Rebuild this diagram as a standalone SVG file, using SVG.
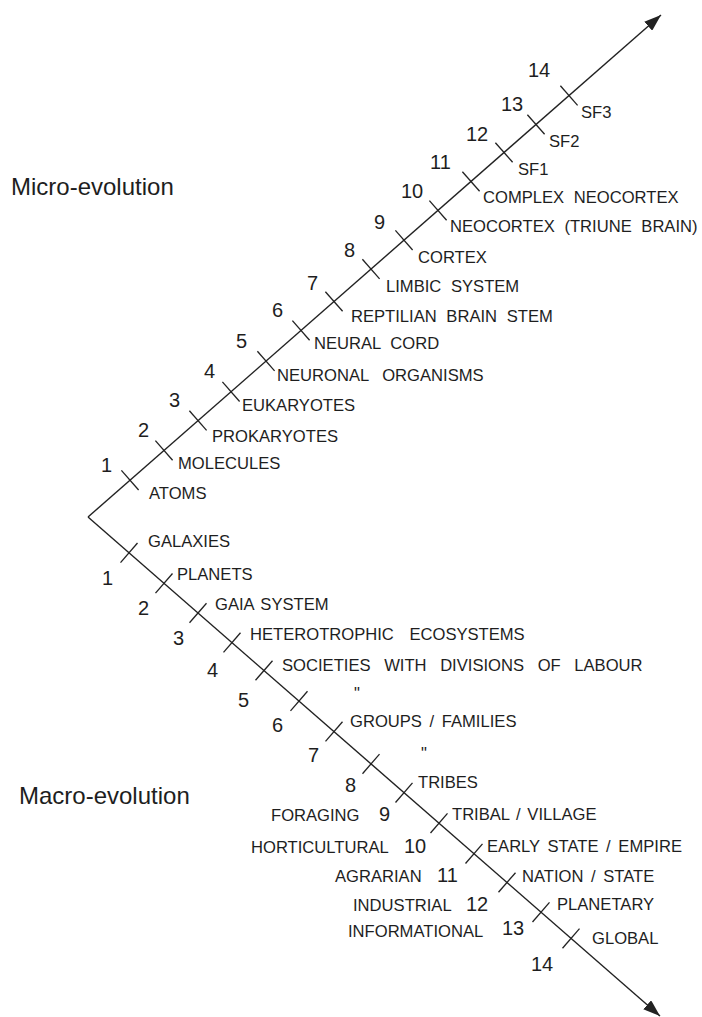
<svg xmlns="http://www.w3.org/2000/svg" width="702" height="1017" viewBox="0 0 702 1017">
  <style>
    .axis { stroke: #222; stroke-width: 1.4; fill: none; }
    .tick { stroke: #222; stroke-width: 1.3; }
    text { font-family: "Liberation Sans", Arial, sans-serif; fill: #1e1e1e; }
    .num { font-size: 20px; }
    .lbl { font-size: 16.6px; word-spacing: 5px; }
    .title { font-size: 24px; }
  </style>
  <defs>
    <marker id="arrow" markerUnits="userSpaceOnUse" markerWidth="18" markerHeight="12" refX="17" refY="6" orient="auto">
      <path d="M0,0 L17,6 L0,12 z" fill="#222"/>
    </marker>
  </defs>

  <!-- two axes diverging from the common origin -->
  <g id="connectors">
    <line id="micro-axis" class="axis" x1="88" y1="517" x2="661" y2="15" marker-end="url(#arrow)"/>
    <line id="macro-axis" class="axis" x1="88" y1="517" x2="660" y2="1016" marker-end="url(#arrow)"/>
  </g>

  <!-- tick marks on the micro-evolution axis -->
  <g id="micro-ticks" class="tick">
    <line x1="121.4" y1="470.4" x2="138.6" y2="490.0"/>
    <line x1="155.4" y1="440.6" x2="172.6" y2="460.2"/>
    <line x1="189.4" y1="410.8" x2="206.6" y2="430.4"/>
    <line x1="222.4" y1="381.9" x2="239.6" y2="401.5"/>
    <line x1="257.4" y1="351.3" x2="274.6" y2="370.9"/>
    <line x1="292.4" y1="320.6" x2="309.6" y2="340.2"/>
    <line x1="325.4" y1="291.7" x2="342.6" y2="311.3"/>
    <line x1="362.4" y1="259.3" x2="379.6" y2="278.9"/>
    <line x1="395.4" y1="230.4" x2="412.6" y2="250.0"/>
    <line x1="429.4" y1="200.6" x2="446.6" y2="220.2"/>
    <line x1="462.4" y1="171.7" x2="479.6" y2="191.3"/>
    <line x1="495.4" y1="142.7" x2="512.6" y2="162.3"/>
    <line x1="527.4" y1="114.7" x2="544.6" y2="134.3"/>
    <line x1="560.4" y1="85.8" x2="577.6" y2="105.4"/>
  </g>

  <!-- tick marks on the macro-evolution axis -->
  <g id="macro-ticks" class="tick">
    <line x1="120.5" y1="562.6" x2="137.5" y2="543.0"/>
    <line x1="155.5" y1="593.1" x2="172.5" y2="573.5"/>
    <line x1="189.5" y1="622.8" x2="206.5" y2="603.2"/>
    <line x1="223.5" y1="652.4" x2="240.5" y2="632.8"/>
    <line x1="255.5" y1="680.3" x2="272.5" y2="660.7"/>
    <line x1="290.5" y1="710.9" x2="307.5" y2="691.3"/>
    <line x1="325.5" y1="741.4" x2="342.5" y2="721.8"/>
    <line x1="362.5" y1="773.7" x2="379.5" y2="754.1"/>
    <line x1="395.5" y1="802.5" x2="412.5" y2="782.9"/>
    <line x1="430.5" y1="833.0" x2="447.5" y2="813.4"/>
    <line x1="465.5" y1="863.5" x2="482.5" y2="843.9"/>
    <line x1="498.5" y1="892.3" x2="515.5" y2="872.7"/>
    <line x1="532.5" y1="922.0" x2="549.5" y2="902.4"/>
    <line x1="562.5" y1="948.2" x2="579.5" y2="928.6"/>
  </g>

  <!-- axis titles -->
  <g id="titles">
    <text id="micro-title" class="title" x="11" y="195">Micro-evolution</text>
    <text id="macro-title" class="title" x="19" y="804">Macro-evolution</text>
  </g>

  <!-- micro-evolution stage numbers -->
  <g id="micro-numbers">
    <text class="num" x="101" y="472">1</text>
    <text class="num" x="138" y="437">2</text>
    <text class="num" x="169" y="407">3</text>
    <text class="num" x="204" y="378">4</text>
    <text class="num" x="236" y="348">5</text>
    <text class="num" x="272" y="317">6</text>
    <text class="num" x="307" y="290">7</text>
    <text class="num" x="344" y="257">8</text>
    <text class="num" x="374" y="229">9</text>
    <text class="num" x="401" y="198">10</text>
    <text class="num" x="430" y="169">11</text>
    <text class="num" x="466" y="141">12</text>
    <text class="num" x="501" y="111">13</text>
    <text class="num" x="528" y="77">14</text>
  </g>

  <!-- micro-evolution stage labels -->
  <g id="micro-labels">
    <text class="lbl" x="149" y="499">ATOMS</text>
    <text class="lbl" x="178" y="469">MOLECULES</text>
    <text class="lbl" x="212" y="442">PROKARYOTES</text>
    <text class="lbl" x="242" y="411">EUKARYOTES</text>
    <text class="lbl" x="277" y="381" style="word-spacing:9px">NEURONAL ORGANISMS</text>
    <text class="lbl" x="314" y="349">NEURAL CORD</text>
    <text class="lbl" x="351" y="322">REPTILIAN BRAIN STEM</text>
    <text class="lbl" x="386" y="292">LIMBIC SYSTEM</text>
    <text class="lbl" x="418" y="263">CORTEX</text>
    <text class="lbl" x="450" y="232">NEOCORTEX (TRIUNE BRAIN)</text>
    <text class="lbl" x="483" y="203">COMPLEX NEOCORTEX</text>
    <text class="lbl" x="518" y="175">SF1</text>
    <text class="lbl" x="549" y="147">SF2</text>
    <text class="lbl" x="581" y="118">SF3</text>
  </g>

  <!-- macro-evolution stage numbers -->
  <g id="macro-numbers">
    <text class="num" x="102" y="585">1</text>
    <text class="num" x="138" y="615">2</text>
    <text class="num" x="173" y="645">3</text>
    <text class="num" x="207" y="677">4</text>
    <text class="num" x="238" y="707">5</text>
    <text class="num" x="272" y="732">6</text>
    <text class="num" x="308" y="762">7</text>
    <text class="num" x="345" y="792">8</text>
    <text class="num" x="379" y="821">9</text>
    <text class="num" x="404" y="853">10</text>
    <text class="num" x="437" y="882">11</text>
    <text class="num" x="466" y="911">12</text>
    <text class="num" x="502" y="935">13</text>
    <text class="num" x="531" y="971">14</text>
  </g>

  <!-- macro-evolution stage labels (right of the axis) -->
  <g id="macro-labels">
    <text class="lbl" x="148" y="547">GALAXIES</text>
    <text class="lbl" x="177" y="580">PLANETS</text>
    <text class="lbl" x="215" y="610" style="word-spacing:2px">GAIA SYSTEM</text>
    <text class="lbl" x="250" y="640" style="word-spacing:11px">HETEROTROPHIC ECOSYSTEMS</text>
    <text class="lbl" x="282" y="671" style="word-spacing:9px">SOCIETIES WITH DIVISIONS OF LABOUR</text>
    <text class="lbl" x="354" y="699">"</text>
    <text class="lbl" x="350" y="727" style="word-spacing:3px">GROUPS / FAMILIES</text>
    <text class="lbl" x="421" y="759">"</text>
    <text class="lbl" x="418" y="788">TRIBES</text>
    <text class="lbl" x="452" y="820" style="word-spacing:2px">TRIBAL / VILLAGE</text>
    <text class="lbl" x="487" y="852" style="word-spacing:3px">EARLY STATE / EMPIRE</text>
    <text class="lbl" x="522" y="882" style="word-spacing:3px">NATION / STATE</text>
    <text class="lbl" x="557" y="910">PLANETARY</text>
    <text class="lbl" x="592" y="944">GLOBAL</text>
  </g>

  <!-- techno-economic bases (left of the axis) -->
  <g id="economy-labels">
    <text class="lbl" x="271" y="821">FORAGING</text>
    <text class="lbl" x="251" y="853">HORTICULTURAL</text>
    <text class="lbl" x="335" y="882">AGRARIAN</text>
    <text class="lbl" x="353" y="911">INDUSTRIAL</text>
    <text class="lbl" x="348" y="937">INFORMATIONAL</text>
  </g>
</svg>
